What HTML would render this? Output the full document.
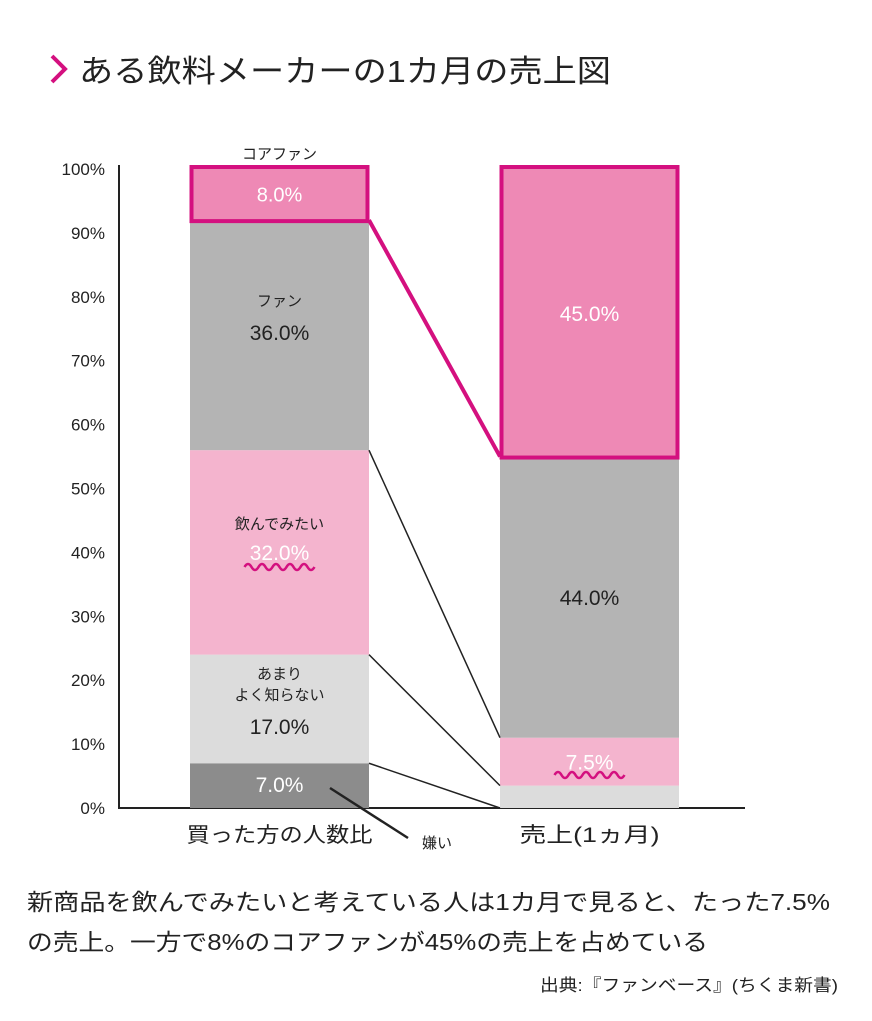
<!DOCTYPE html>
<html><head><meta charset="utf-8"><style>
body{margin:0;background:#fff;}
svg text{font-family:"Liberation Sans","Noto Sans CJK JP",sans-serif;}
</style></head><body>
<svg width="872" height="1016" viewBox="0 0 872 1016">
<polyline points="52,56 65,69 52,82" fill="none" stroke="#d4107f" stroke-width="4"/>
<text x="79" y="82" font-size="31" fill="#222" textLength="532" lengthAdjust="spacingAndGlyphs">ある飲料メーカーの1カ月の売上図</text>
<g id="axes"></g>
<g id="bars"></g>
<g id="labels"></g>
<text x="27" y="910" font-size="23" fill="#222" textLength="803" lengthAdjust="spacingAndGlyphs">新商品を飲んでみたいと考えている人は1カ月で見ると、たった7.5%</text>
<text x="27" y="950" font-size="23" fill="#222" textLength="681" lengthAdjust="spacingAndGlyphs">の売上。一方で8%のコアファンが45%の売上を占めている</text>
<text x="540" y="991" font-size="17" fill="#222" textLength="298" lengthAdjust="spacingAndGlyphs">出典:『ファンベース』(ちくま新書)</text>
</svg>
<script>
const ticks=[0,10,20,30,40,50,60,70,80,90,100];
const categories=['買った方の人数比','売上(1ヵ月)'];
const segNames=['嫌い','あまりよく知らない','飲んでみたい','ファン','コアファン'];
const peopleVals=[7,17,32,36,8];
const salesVals=[0,3.5,7.5,44,45];
const ns='http://www.w3.org/2000/svg';
const y=v=>808-v*6.39;
const barX=[190,500],barW=179;
const catLen=[186,140];
const fills=['#8c8c8c','#dcdcdc','#f4b4ce','#b4b4b4','#ee89b5'];
function mk(tag,attrs,parent){const e=document.createElementNS(ns,tag);for(const k in attrs)e.setAttribute(k,attrs[k]);document.getElementById(parent).appendChild(e);return e;}
let e=mk('line',{x1:119,y1:165,x2:119,y2:809,stroke:'#222','stroke-width':2},'axes');

e=mk('line',{x1:118,y1:808,x2:745,y2:808,stroke:'#222','stroke-width':2},'axes');

ticks.forEach(t=>{const tx=mk('text',{x:105,y:y(t)+6,'font-size':17,'text-anchor':'end',fill:'#222'},'axes');tx.textContent=t+'%';
});
categories.forEach((c,i)=>{const tx=mk('text',{x:barX[i]+barW/2,y:842,'font-size':21,'text-anchor':'middle',fill:'#222',textLength:catLen[i],lengthAdjust:'spacingAndGlyphs'},'axes');tx.textContent=c;
});
const series=[peopleVals,salesVals];
const tops=[[],[]];
series.forEach((vals,bi)=>{let cum=0;vals.forEach((v,si)=>{const y0=y(cum),y1=y(cum+v);tops[bi].push(cum+v);
if(v>0){const r=mk('rect',{x:barX[bi],y:y1,width:barW,height:y0-y1,fill:fills[si]},'bars');
}
cum+=v;});});
series.forEach((vals,bi)=>{const last=vals.length-1;const lo=100-vals[last];
const r=mk('rect',{x:barX[bi]+1.5,y:y(100)-2,width:barW-3,height:y(lo)-y(100)+3,fill:'none',stroke:'#d4107f','stroke-width':4},'bars');
});
for(let si=0;si<4;si++){const top=si===3;
const l=mk('line',{x1:barX[0]+barW,y1:y(tops[0][si]),x2:barX[1],y2:y(si===0?0:tops[1][si]),stroke:top?'#d4107f':'#222','stroke-width':top?4:1.5},'bars');
}
function lbl(x,yy,txt,size,fill,name){const t=mk('text',{x:x,y:yy,'font-size':size,'text-anchor':'middle',fill:fill},'labels');t.textContent=txt;
return t;}
function wave(cx,yy,name){let d='M'+(cx-35)+','+yy;for(let i=0;i<10;i++){d+=' q3.5,'+(i%2?6:-6)+' 7,0';}
const p=mk('path',{d:d,fill:'none',stroke:'#d4107f','stroke-width':2.5},'labels');}
const cx0=barX[0]+barW/2,cx1=barX[1]+barW/2;
const mid=(vals,si)=>{let c=0;for(let i=0;i<si;i++)c+=vals[i];return y(c+vals[si]/2);};
lbl(cx0,159,segNames[4],15,'#222','core-fan-name');
lbl(cx0,mid(peopleVals,4)+7,peopleVals[4].toFixed(1)+'%',20,'#fff','value-label');
lbl(cx0,306,segNames[3],15,'#222','segment-name');
lbl(cx0,340,peopleVals[3].toFixed(1)+'%',21,'#222','value-label');
lbl(cx0,529,segNames[2],15,'#222','segment-name');
lbl(cx0,560,peopleVals[2].toFixed(1)+'%',21,'#fff','value-label');wave(cx0,567,'wavy-underline');
lbl(cx0,679,'あまり',15,'#222','segment-name');
lbl(cx0,700,'よく知らない',15,'#222','segment-name');
lbl(cx0,734,peopleVals[1].toFixed(1)+'%',21,'#222','value-label');
lbl(cx0,792,peopleVals[0].toFixed(1)+'%',21,'#fff','value-label');
lbl(cx1,mid(salesVals,4)+8,salesVals[4].toFixed(1)+'%',21,'#fff','value-label');
lbl(cx1,mid(salesVals,3)+8,salesVals[3].toFixed(1)+'%',21,'#222','value-label');
lbl(cx1,mid(salesVals,2)+8,salesVals[2].toFixed(1)+'%',21,'#fff','value-label');wave(cx1,775,'wavy-underline');
e=mk('line',{x1:330,y1:788,x2:408,y2:838,stroke:'#222','stroke-width':2.5},'labels');

lbl(437,848,segNames[0],15,'#222','dislike-label');
</script>
</body></html>
